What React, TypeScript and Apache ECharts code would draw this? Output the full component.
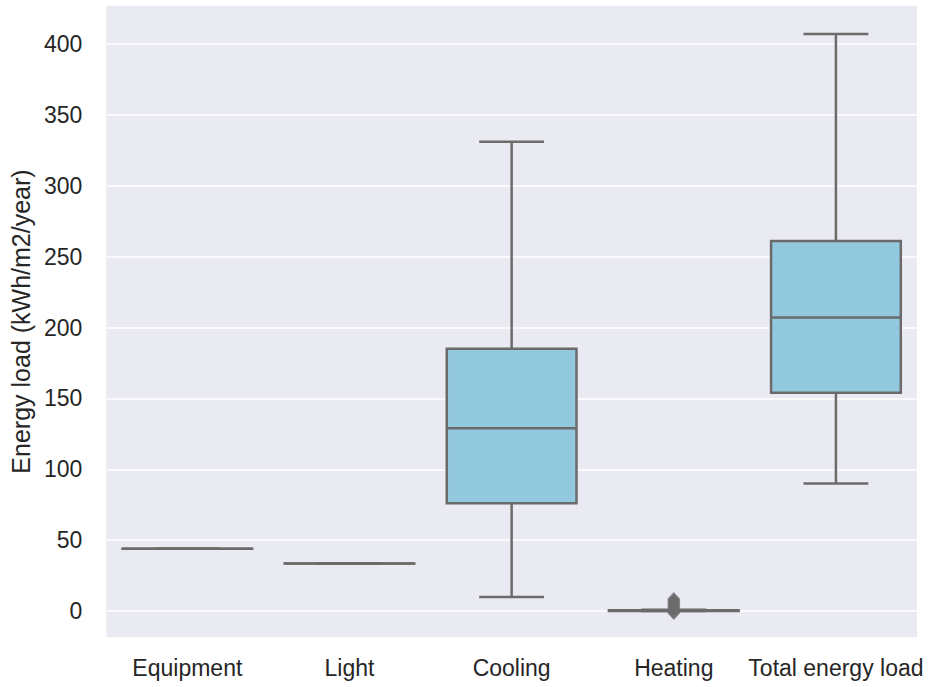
import React, { useEffect, useRef } from "react";
import * as echarts from "echarts";

const categories = ["Equipment", "Light", "Cooling", "Heating", "Total energy load"];
// [low whisker, Q1, median, Q3, high whisker]
const lowWhisker = [44, 33.5, 10, 0, 90];
const q1Values = [44, 33.5, 76, 0, 154];
const medianValues = [44, 33.5, 129, 0.2, 207];
const q3Values = [44, 33.5, 185, 0.5, 261];
const highWhisker = [44, 33.5, 331, 1, 407];
const heatingOutliers = [-1.4, -0.5, 1.5, 2.5, 3.5, 4.5, 5.5, 6.5, 7.5, 8.5];
const yTickStep = 50;
const yMin = -19;
const yMax = 427.5;

const LINE = "#6b6b6b";
const FILL = "#93c9df";
const TEXT = "#262626";
const FONT = "Liberation Sans, Arial, sans-serif";

export default function App() {
  const ref = useRef<HTMLDivElement>(null);
  useEffect(() => {
    if (!ref.current) return;
    const chart = echarts.init(ref.current, undefined, { renderer: "svg" });
    const boxData = categories.map((_, i) => [
      i,
      lowWhisker[i],
      q1Values[i],
      medianValues[i],
      q3Values[i],
      highWhisker[i],
    ]);
    const heatingIdx = categories.indexOf("Heating");
    chart.setOption({
      animation: false,
      backgroundColor: "#ffffff",
      textStyle: { fontFamily: FONT },
      grid: { left: 105, right: 14, top: 5, bottom: 49, show: true, backgroundColor: "#EAEAF2", borderWidth: 0 },
      xAxis: {
        type: "category",
        data: categories,
        axisLine: { show: false },
        axisTick: { show: false },
        axisLabel: { color: TEXT, fontSize: 23, fontFamily: FONT, margin: 18, interval: 0 },
        splitLine: { show: false },
      },
      yAxis: {
        type: "value",
        min: yMin,
        max: yMax,
        splitNumber: 9,
        minInterval: yTickStep,
        maxInterval: yTickStep,
        name: "Energy load (kWh/m2/year)",
        nameLocation: "middle",
        nameGap: 70,
        nameTextStyle: { color: TEXT, fontSize: 25, fontFamily: FONT },
        axisLine: { show: false },
        axisTick: { show: false },
        axisLabel: {
          color: TEXT,
          fontSize: 23,
          fontFamily: FONT,
          margin: 24,
          showMinLabel: false,
          showMaxLabel: false,
          formatter: (v: number) => (Math.abs(v % yTickStep) < 1e-6 ? String(v) : ""),
        },
        splitLine: { show: true, lineStyle: { color: "#ffffff", width: 1.5 } },
      },
      series: [
        {
          type: "custom",
          data: boxData,
          encode: { x: 0, y: [1, 2, 3, 4, 5] },
          renderItem: (params: any, api: any) => {
            const x = api.value(0);
            const lo = api.coord([x, api.value(1)]);
            const q1 = api.coord([x, api.value(2)]);
            const md = api.coord([x, api.value(3)]);
            const q3 = api.coord([x, api.value(4)]);
            const hi = api.coord([x, api.value(5)]);
            const band = api.size([1, 0])[0];
            const bw = band * 0.8;
            const cw = bw / 2;
            const cx = lo[0];
            const ls = { stroke: LINE, lineWidth: 2.5 };
            return {
              type: "group",
              children: [
                { type: "line", shape: { x1: cx, y1: lo[1], x2: cx, y2: q1[1] }, style: ls },
                { type: "line", shape: { x1: cx, y1: q3[1], x2: cx, y2: hi[1] }, style: ls },
                { type: "line", shape: { x1: cx - cw / 2, y1: lo[1], x2: cx + cw / 2, y2: lo[1] }, style: ls },
                { type: "line", shape: { x1: cx - cw / 2, y1: hi[1], x2: cx + cw / 2, y2: hi[1] }, style: ls },
                {
                  type: "rect",
                  shape: { x: cx - bw / 2, y: q3[1], width: bw, height: Math.max(q1[1] - q3[1], 0.01) },
                  style: { fill: FILL, stroke: LINE, lineWidth: 2.5 },
                },
                { type: "line", shape: { x1: cx - bw / 2, y1: md[1], x2: cx + bw / 2, y2: md[1] }, style: ls },
              ],
            };
          },
          z: 2,
        },
        {
          type: "scatter",
          data: heatingOutliers.map((v) => [heatingIdx, v]),
          symbol: "diamond",
          symbolSize: [13, 14],
          itemStyle: { color: LINE },
          z: 3,
        },
      ],
    });
    return () => chart.dispose();
  }, []);
  return (
    <div
      ref={ref}
      style={{ position: "fixed", left: 0, top: 0, width: 931, height: 687 }}
    />
  );
}
